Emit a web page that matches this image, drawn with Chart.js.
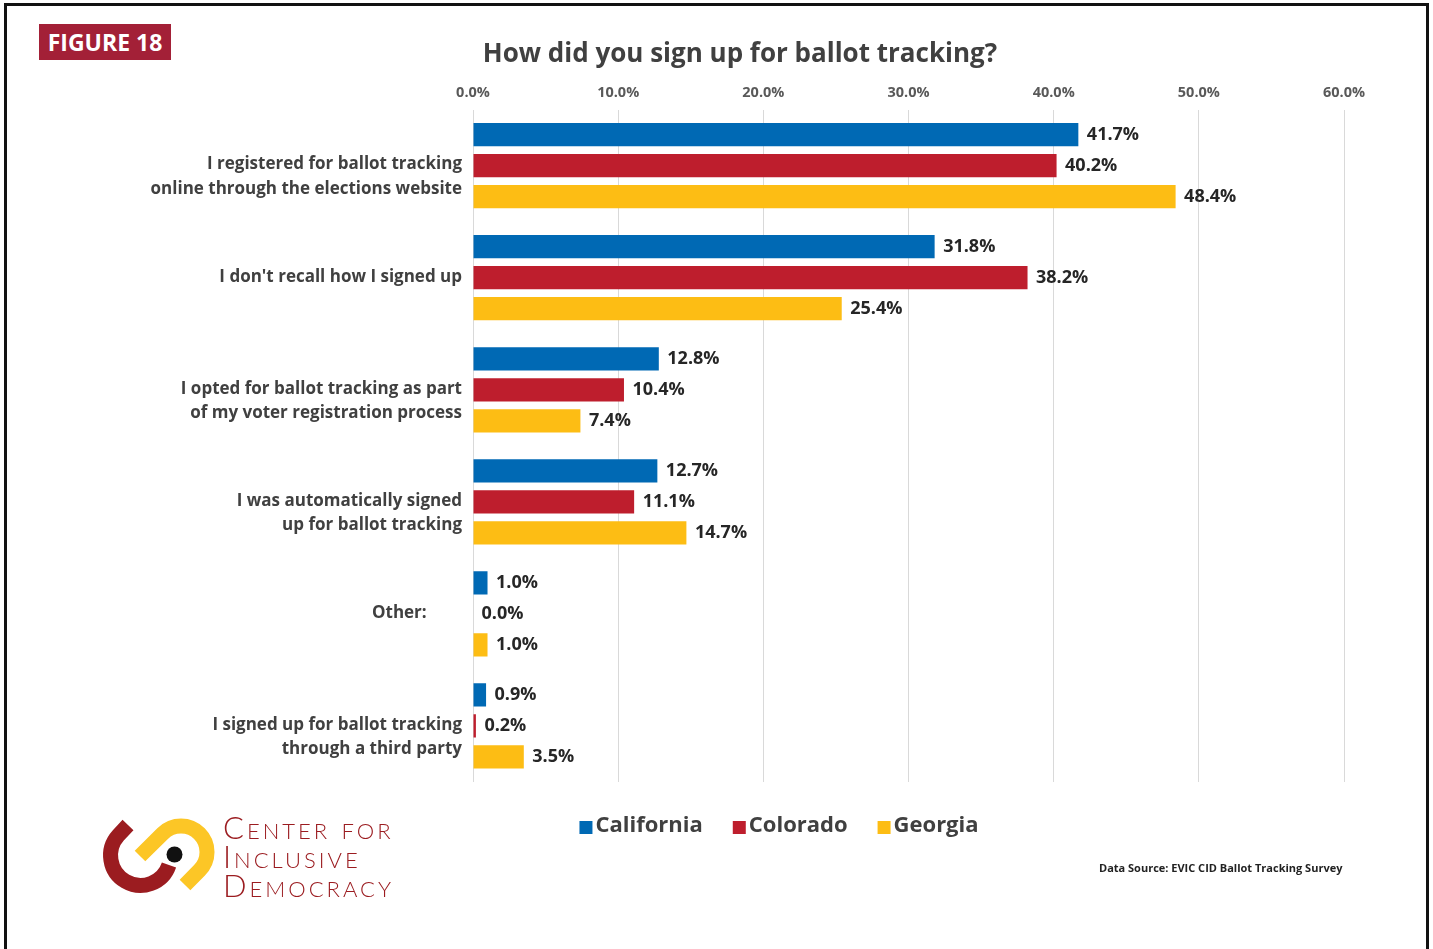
<!DOCTYPE html>
<html>
<head>
<meta charset="utf-8">
<script src="https://cdn.jsdelivr.net/npm/chart.js@4"></script>
<style>
  html, body { margin: 0; padding: 0; background: #fff; }
  body { width: 1433px; height: 949px; position: relative; overflow: hidden; font-family: "Open Sans", sans-serif; }
  #frame { position: absolute; left: 4px; top: 3px; width: 1419px; height: 1000px; border: 3px solid #111; pointer-events: none; z-index: 5; }
  #chart { position: absolute; left: 0; top: 0; }
  #badge { position: absolute; left: 39px; top: 24px; width: 132px; height: 36px; background: #a32037; color: #fff;
           font: 700 23px "Open Sans", sans-serif; line-height: 36px; text-align: center; }
  #logo { position: absolute; left: 95px; top: 810px; }
  #org { position: absolute; left: 223px; top: 813px; color: #9b1c20; font-family: "Lato", "Open Sans", sans-serif;
         font-weight: 300; font-size: 31px; font-variant: small-caps; line-height: 29px; letter-spacing: 3px; }
  #source { position: absolute; left: 1099px; top: 860px; font: 700 11px "Open Sans", sans-serif; color: #222; letter-spacing: 0px; }
</style>
</head>
<body>
<canvas id="chart" width="1433" height="949"></canvas>
<div id="frame"></div>
<div id="badge">FIGURE 18</div>
<svg id="logo" width="130" height="92" viewBox="95 810 130 92">
  <path d="M128 825 L118.3 835.3 A30 30 0 1 0 169 865" fill="none" stroke="#9b1c20" stroke-width="15"/>
  <path d="M140 856 L162.6 833.6 A26 26 0 1 1 199.4 870.4 L185 885" fill="none" stroke="#fcc626" stroke-width="15"/>
  <circle cx="174.5" cy="854.5" r="8" fill="#111"/>
</svg>
<div id="org">Center for<br>Inclusive<br>Democracy</div>
<div id="source">Data Source: EVIC CID Ballot Tracking Survey</div>
<script>
// Answer categories. Two-line labels start with an empty line so the text
// sits on and below the bar group centre; "Other:" is padded to sit further left.
const categories = [
  ["", "I registered for ballot tracking", "online through the elections website"],
  "I don't recall how I signed up",
  ["", "I opted for ballot tracking as part", "of my voter registration process"],
  ["", "I was automatically signed", "up for ballot tracking"],
  "Other:\u00a0\u00a0\u00a0\u00a0\u00a0\u00a0\u00a0\u00a0",
  ["", "I signed up for ballot tracking", "through a third party"]
];
const seriesNames = ["California", "Colorado", "Georgia"];
const california = [41.7, 31.8, 12.8, 12.7, 1.0, 0.9];
const colorado   = [40.2, 38.2, 10.4, 11.1, 0.0, 0.2];
const georgia    = [48.4, 25.4, 7.4, 14.7, 1.0, 3.5];
const tickValues = [0, 10, 20, 30, 40, 50, 60];
const seriesColors = ["#0069b4", "#be1e2d", "#fdbd14"];

const FONT = '"Open Sans", sans-serif';

// Value labels at the end of each bar
const valueLabels = {
  id: 'valueLabels',
  afterDatasetsDraw(chart) {
    const ctx = chart.ctx;
    ctx.save();
    ctx.font = '700 18px ' + FONT;
    ctx.fillStyle = '#262626';
    ctx.textAlign = 'left';
    ctx.textBaseline = 'middle';
    chart.data.datasets.forEach((ds, i) => {
      const meta = chart.getDatasetMeta(i);
      meta.data.forEach((bar, j) => {
        ctx.fillText(ds.data[j].toFixed(1) + '%', bar.x + 8.5, bar.y);
      });
    });
    ctx.restore();
  }
};

// Legend row under the plot: square swatch followed by series name
const stateLegend = {
  id: 'stateLegend',
  afterDraw(chart) {
    const ctx = chart.ctx;
    ctx.save();
    ctx.font = '700 22px ' + FONT;
    ctx.textBaseline = 'middle';
    const box = 13, gapBox = 3, gapItem = 30;
    const items = chart.data.datasets.map(ds => ({ label: ds.label, color: ds.backgroundColor, w: ctx.measureText(ds.label).width }));
    const total = items.reduce((s, it) => s + box + gapBox + it.w, 0) + gapItem * (items.length - 1);
    let x = 779 - total / 2;
    const y = 826;
    items.forEach(it => {
      ctx.fillStyle = it.color;
      ctx.fillRect(x, y - 5, box, box);
      ctx.fillStyle = '#404040';
      ctx.fillText(it.label, x + box + gapBox, y);
      x += box + gapBox + it.w + gapItem;
    });
    ctx.restore();
  }
};

const datasets = [california, colorado, georgia].map((vals, i) => ({
  label: seriesNames[i],
  data: vals,
  backgroundColor: seriesColors[i],
  borderWidth: 0,
  categoryPercentage: 0.83,
  barPercentage: 0.75
}));

new Chart(document.getElementById('chart'), {
  type: 'bar',
  data: { labels: categories, datasets },
  plugins: [valueLabels, stateLegend],
  options: {
    indexAxis: 'y',
    responsive: false,
    animation: false,
    layout: { padding: { left: 136, right: 89, top: 39, bottom: 167 } },
    plugins: {
      legend: { display: false },
      tooltip: { enabled: false },
      title: {
        display: true,
        text: 'How did you sign up for ballot tracking?',
        color: '#404040',
        font: { family: FONT, size: 26, weight: '700' },
        padding: { top: 0, bottom: 6 }
      }
    },
    scales: {
      x: {
        position: 'top',
        min: tickValues[0],
        max: tickValues[tickValues.length - 1],
        afterBuildTicks(scale) { scale.ticks = tickValues.map(v => ({ value: v })); },
        ticks: {
          callback: v => v.toFixed(1) + '%',
          color: '#595959',
          font: { family: FONT, size: 14.5, weight: '700' },
          padding: 8
        },
        grid: { color: '#d9d9d9', lineWidth: 1, drawTicks: false },
        border: { display: false }
      },
      y: {
        afterFit(scale) { scale.width = 337; },
        ticks: {
          color: '#404040',
          font: { family: FONT, size: 17, weight: '700', lineHeight: 1.42 },
          padding: 11,
          labelOffset: -1
        },
        grid: { display: false, drawTicks: false },
        border: { display: false }
      }
    }
  }
});
</script>
</body>
</html>
